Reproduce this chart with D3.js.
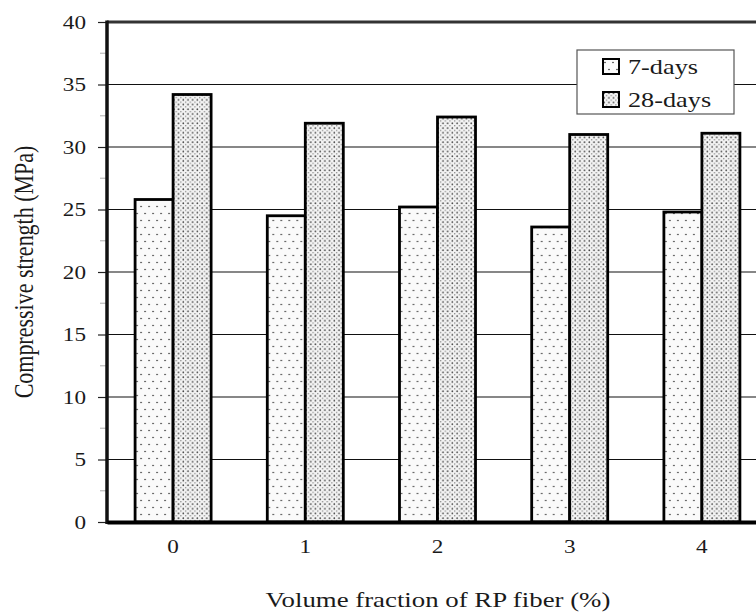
<!DOCTYPE html>
<html>
<head>
<meta charset="utf-8">
<script src="https://cdn.jsdelivr.net/npm/d3@7"></script>
<style>
  html, body { margin: 0; padding: 0; background: #fff; }
  svg { display: block; font-family: "Liberation Serif", "Times New Roman", serif; }
</style>
</head>
<body>
<svg id="chart" width="756" height="615"></svg>
<script>
// Compressive strength of concrete by RP fibre volume fraction
const categories = ["0", "1", "2", "3", "4"];
const seriesNames = ["7-days", "28-days"];
const days7 = [25.8, 24.5, 25.2, 23.6, 24.8];
const days28 = [34.2, 31.9, 32.4, 31.0, 31.1];
const yTicks = [0, 5, 10, 15, 20, 25, 30, 35, 40];
const yMinorTicks = [2.5, 7.5, 12.5, 17.5, 22.5, 27.5, 32.5, 37.5];

const seriesValues = { "7-days": days7, "28-days": days28 };

const svg = d3.select("#chart");
const stretch = 1.22; // glyphs are drawn slightly wide

const margin = { left: 107, top: 22, right: 768, bottom: 522 };

const x0 = d3.scaleBand()
  .domain(categories)
  .range([margin.left, margin.right])
  .paddingInner(0.425)
  .paddingOuter(0.2125);

const x1 = d3.scaleBand()
  .domain(seriesNames)
  .range([0, x0.bandwidth()])
  .padding(0);

const y = d3.scaleLinear().domain([0, 40]).range([margin.bottom, margin.top]);

// Fill patterns: sparse dots for 7-day, dense dots for 28-day
const defs = svg.append("defs");
const pSparse = defs.append("pattern")
  .attr("id", "pat7").attr("patternUnits", "userSpaceOnUse")
  .attr("width", 8).attr("height", 14);
pSparse.append("rect").attr("width", 8).attr("height", 14).attr("fill", "#fafafa");
pSparse.append("circle").attr("cx", 2).attr("cy", 3.5).attr("r", 0.8).attr("fill", "#333");
pSparse.append("circle").attr("cx", 6).attr("cy", 10.5).attr("r", 0.8).attr("fill", "#333");

const pDense = defs.append("pattern")
  .attr("id", "pat28").attr("patternUnits", "userSpaceOnUse")
  .attr("width", 4.7).attr("height", 4.7);
pDense.append("rect").attr("width", 4.7).attr("height", 4.7).attr("fill", "#f4f4f4");
pDense.append("circle").attr("cx", 1.2).attr("cy", 1.2).attr("r", 0.85).attr("fill", "#444");
pDense.append("circle").attr("cx", 3.55).attr("cy", 3.55).attr("r", 0.7).attr("fill", "#777");

const fillFor = { "7-days": "url(#pat7)", "28-days": "url(#pat28)" };

// Horizontal gridlines
svg.append("g")
  .selectAll("line")
  .data(yTicks.filter(t => t > 0 && t < 40))
  .join("line")
  .attr("x1", margin.left).attr("x2", margin.right)
  .attr("y1", d => y(d)).attr("y2", d => y(d))
  .attr("stroke", "#111").attr("stroke-width", 1.2);

// Minor ticks
svg.append("g")
  .selectAll("line")
  .data(yMinorTicks)
  .join("line")
  .attr("x1", margin.left - 7).attr("x2", margin.left)
  .attr("y1", d => y(d)).attr("y2", d => y(d))
  .attr("stroke", "#bbb").attr("stroke-width", 1.2);

// Major y axis ticks and labels
const yAxis = d3.axisLeft(y).tickValues(yTicks).tickSize(9).tickPadding(12).tickFormat(d3.format("d"));
const gy = svg.append("g").attr("transform", `translate(${margin.left},0)`).call(yAxis);
gy.select(".domain").remove();
gy.selectAll(".tick line").attr("stroke", "#222").attr("stroke-width", 1.2);
gy.selectAll(".tick text")
  .attr("font-size", 19)
  .attr("fill", "#1a1a1a")
  .attr("font-family", "Liberation Serif, serif")
  .attr("transform", function() {
    const xx = +d3.select(this).attr("x");
    return `translate(${xx},0) scale(${stretch},1) translate(${-xx},0)`;
  });

// Bars
const groups = svg.append("g")
  .selectAll("g")
  .data(categories)
  .join("g")
  .attr("transform", d => `translate(${x0(d)},0)`);

groups.selectAll("rect")
  .data((c, i) => seriesNames.map(s => ({ series: s, value: seriesValues[s][i] })))
  .join("rect")
  .attr("x", d => x1(d.series))
  .attr("width", x1.bandwidth())
  .attr("y", d => y(d.value))
  .attr("height", d => y(0) - y(d.value))
  .attr("fill", d => fillFor[d.series])
  .attr("stroke", "#000")
  .attr("stroke-width", 2.8);

// Frame: top border, left axis, bottom axis
svg.append("line")
  .attr("x1", margin.left).attr("x2", 756)
  .attr("y1", y(40)).attr("y2", y(40))
  .attr("stroke", "#333").attr("stroke-width", 3);
svg.append("line")
  .attr("x1", margin.left).attr("x2", margin.left)
  .attr("y1", y(40) - 1.5).attr("y2", y(0) + 2)
  .attr("stroke", "#111").attr("stroke-width", 3.5);

const xAxis = d3.axisBottom(x0).tickSize(0).tickPadding(18);
const gx = svg.append("g").attr("transform", `translate(0,${y(0)})`).call(xAxis);
gx.select(".domain").attr("stroke", "#000").attr("stroke-width", 4);
gx.selectAll(".tick text")
  .attr("font-size", 19)
  .attr("fill", "#1a1a1a")
  .attr("font-family", "Liberation Serif, serif")
  .attr("x", 0)
  .attr("transform", `scale(${stretch},1)`);

// Axis titles
svg.append("text")
  .attr("transform", `translate(438,607) scale(${stretch},1)`)
  .attr("text-anchor", "middle")
  .attr("font-size", 22)
  .attr("fill", "#1a1a1a")
  .text("Volume fraction of RP fiber (%)");

svg.append("text")
  .attr("transform", `translate(33,272) scale(${stretch},1) rotate(-90)`)
  .attr("text-anchor", "middle")
  .attr("font-size", 22)
  .attr("fill", "#1a1a1a")
  .text("Compressive strength (MPa)");

// Legend
const legend = svg.append("g");
legend.append("rect")
  .attr("x", 577).attr("y", 50).attr("width", 157).attr("height", 64)
  .attr("fill", "#fff").attr("stroke", "#555").attr("stroke-width", 1.2);

const items = legend.selectAll("g.item")
  .data(seriesNames)
  .join("g")
  .attr("class", "item")
  .attr("transform", (d, i) => `translate(603,${59 + i * 33})`);
items.append("rect")
  .attr("width", 16).attr("height", 15)
  .attr("fill", d => fillFor[d])
  .attr("stroke", "#000").attr("stroke-width", 2);
items.append("text")
  .attr("transform", `translate(25,14.5) scale(1.25,1)`)
  .attr("font-size", 21)
  .attr("fill", "#1a1a1a")
  .text(d => d);
</script>
</body>
</html>
